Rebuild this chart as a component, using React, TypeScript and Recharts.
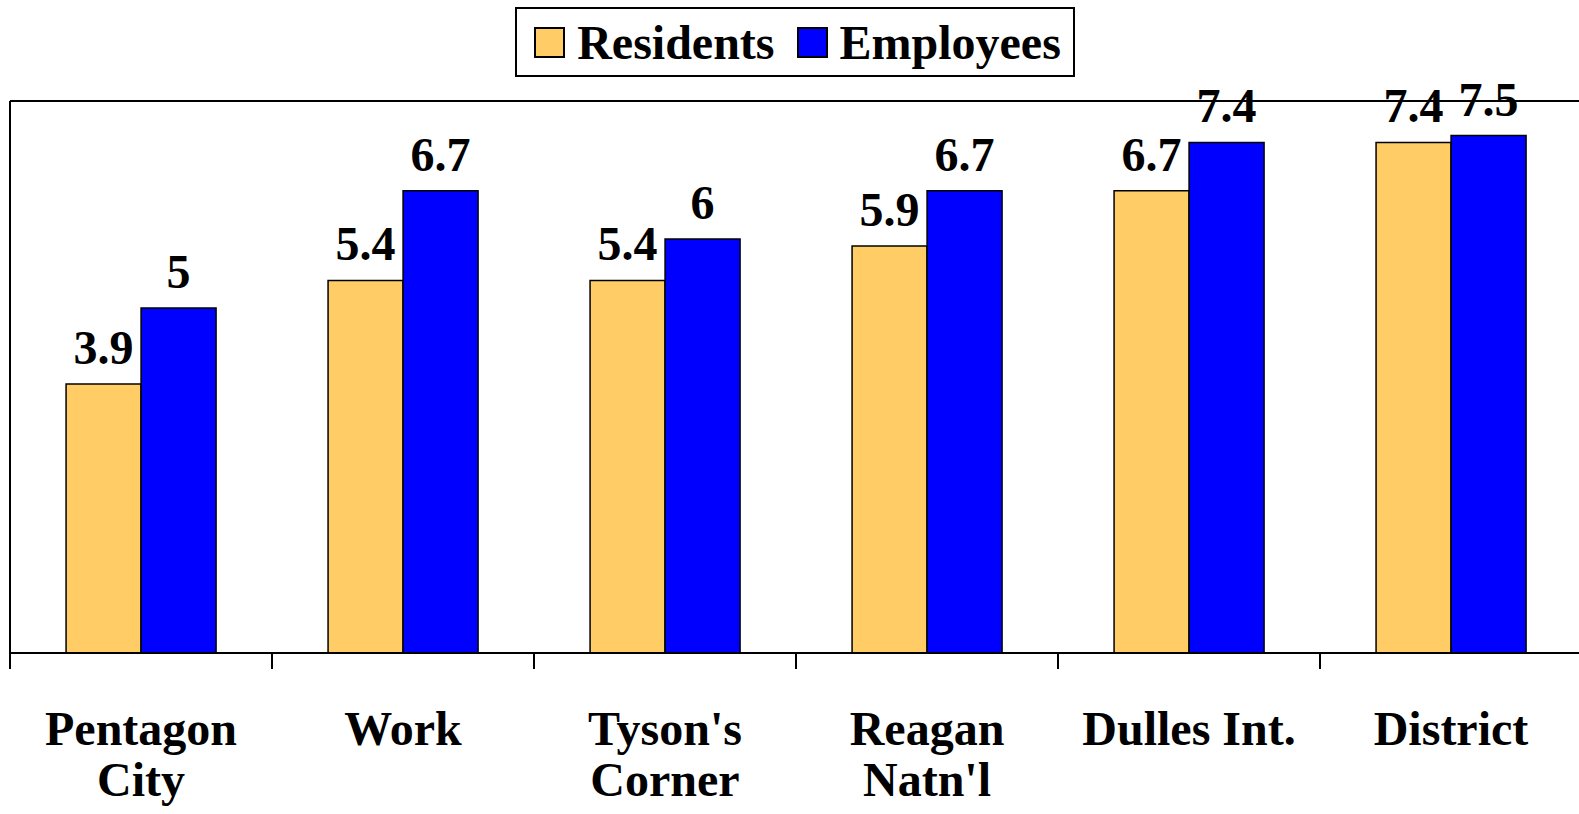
import React from "react";
import {
  BarChart,
  Bar,
  XAxis,
  YAxis,
  LabelList,
  Legend,
  ReferenceLine,
} from "recharts";

const categories = [
  "Pentagon City",
  "Work",
  "Tyson's Corner",
  "Reagan Natn'l",
  "Dulles Int.",
  "District",
];
// how each category label is broken over lines under the axis
const tickLines = [
  ["Pentagon", "City"],
  ["Work"],
  ["Tyson's", "Corner"],
  ["Reagan", "Natn'l"],
  ["Dulles Int."],
  ["District"],
];
const residents = [3.9, 5.4, 5.4, 5.9, 6.7, 7.4];
const employees = [5, 6.7, 6, 6.7, 7.4, 7.5];

const FONT = '"Liberation Serif", "Times New Roman", Times, serif';
const series = [
  { key: "Residents", color: "#FFCC66" },
  { key: "Employees", color: "#0000FF" },
];

const data = categories.map((name, i) => ({
  name,
  Residents: residents[i],
  Employees: employees[i],
}));

function CategoryTick(props: any) {
  const { x, y, payload, index } = props;
  const half = payload?.offset ?? 131;
  const last = index === categories.length - 1;
  const lines = tickLines[index] || [payload.value];
  return (
    <g>
      <line x1={x - half} x2={x - half} y1={y} y2={y + 16} stroke="#000" strokeWidth={2} />
      {last && (
        <line x1={x + half} x2={x + half} y1={y} y2={y + 16} stroke="#000" strokeWidth={2} />
      )}
      <text
        x={x}
        y={y + 92}
        textAnchor="middle"
        fill="#000"
        style={{ fontFamily: FONT, fontSize: 48, fontWeight: "bold" }}
      >
        {lines.map((l, i) => (
          <tspan key={i} x={x} dy={i ? 51 : 0}>
            {l}
          </tspan>
        ))}
      </text>
    </g>
  );
}

function LegendBox() {
  return (
    <div style={{ height: 94, display: "flex", justifyContent: "center" }}>
      <div
        style={{
          height: 70,
          boxSizing: "border-box",
          border: "2px solid #000",
          display: "flex",
          alignItems: "center",
          padding: "0 12px 0 17px",
          fontFamily: FONT,
          fontSize: 48,
          fontWeight: "bold",
          color: "#000",
          background: "#fff",
        }}
      >
        {series.map((s, i) => (
          <span
            key={s.key}
            style={{ display: "flex", alignItems: "center", marginLeft: i ? 22 : 0 }}
          >
            <span
              style={{
                width: 31,
                height: 31,
                boxSizing: "border-box",
                border: "2px solid #000",
                background: s.color,
                marginRight: 12,
              }}
            />
            {s.key}
          </span>
        ))}
      </div>
    </div>
  );
}

export default function App() {
  return (
    <div
      style={{
        position: "absolute",
        left: 0,
        top: 0,
        width: 1579,
        height: 814,
        overflow: "hidden",
        background: "#fff",
      }}
    >
      <BarChart
        width={1600}
        height={814}
        data={data}
        margin={{ top: 7, right: 18, bottom: 0, left: 8 }}
        barCategoryGap="21.4%"
        barGap={0}
      >
        <Legend verticalAlign="top" content={<LegendBox />} />
        <XAxis
          dataKey="name"
          height={161}
          axisLine={{ stroke: "#000", strokeWidth: 2 }}
          tickLine={false}
          tickSize={0}
          tickMargin={0}
          interval={0}
          tick={<CategoryTick />}
        />
        <YAxis
          domain={[0, 8]}
          width={2}
          tick={false}
          tickLine={false}
          axisLine={{ stroke: "#000", strokeWidth: 2 }}
        />
        <ReferenceLine y={8} stroke="#000" strokeWidth={2} />
        {series.map((s) => (
          <Bar
            key={s.key}
            dataKey={s.key}
            fill={s.color}
            stroke="#000"
            strokeWidth={1.5}
            isAnimationActive={false}
          >
            <LabelList
              dataKey={s.key}
              position="top"
              offset={20}
              fill="#000"
              style={{ fontFamily: FONT, fontSize: 48, fontWeight: "bold" }}
            />
          </Bar>
        ))}
      </BarChart>
    </div>
  );
}
